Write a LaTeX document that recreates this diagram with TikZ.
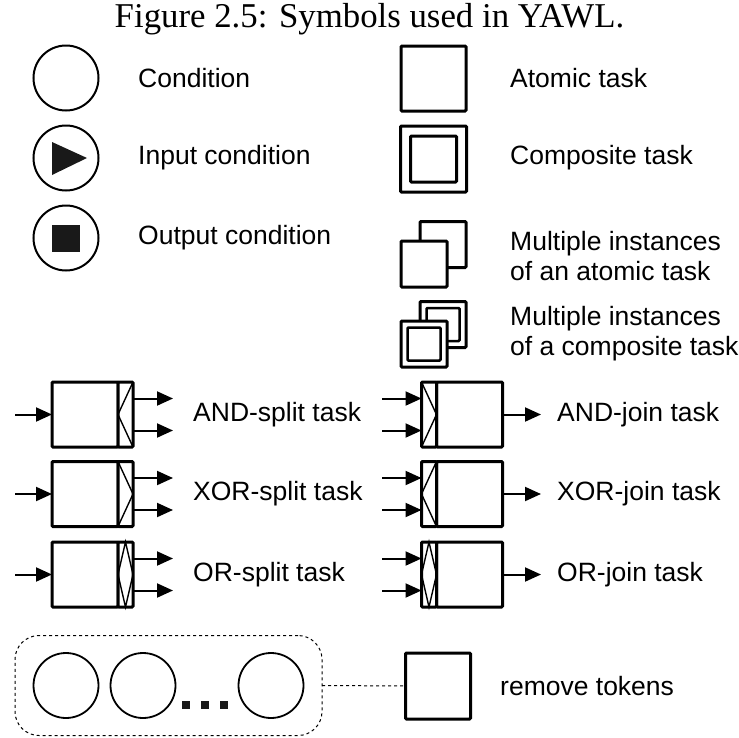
\documentclass[tikz,border=0pt]{standalone}
\usepackage{fontspec}
\setmainfont{Liberation Serif}
\setsansfont{Liberation Sans}
\usetikzlibrary{arrows.meta}

\begin{document}
\begin{tikzpicture}[x=1pt,y=-1pt,
  lbl/.style={font=\fontsize{26.5}{30}\selectfont\sffamily, anchor=west, inner sep=0, align=left},
  cond/.style={draw, circle, line width=2, minimum size=65, inner sep=0, outer sep=0},
  box/.style={draw, line width=3, rounded corners=1, fill=white, inner sep=0, outer sep=0},
  mainbox/.style={box, minimum width=66, minimum height=65},
  decobox/.style={box, minimum width=15, minimum height=65},
  flow/.style={line width=2, -{Triangle[length=16,width=14]}},
  deco/.style={line width=1.4},
  token/.style={draw, circle, line width=1.8, minimum size=65, inner sep=0, outer sep=0}]
\useasboundingbox (0,0) rectangle (739,737);

% caption
\node[font=\fontsize{34.8}{40}\selectfont, anchor=base, inner sep=0] (cap) at (369.5,27) {Figure 2.5: Symbols used in YAWL.};

% conditions
\node[cond] (c) at (66,78) {};
\node[cond] (ci) at (66,158) {};
\node[cond] (co) at (66,238) {};
\fill[black!90] ([shift={(-14,-16)}]ci.center) -- ([shift={(21,0)}]ci.center) -- ([shift={(-14,17)}]ci.center) -- cycle;
\fill[black!90] ([shift={(-14,-13.5)}]co.center) rectangle ([shift={(14,13.5)}]co.center);
\node[lbl] (lc) at (138,78) {Condition};
\node[lbl] (lci) at (138,158) {Input condition};
\node[lbl] (lco) at (138,238) {Output condition};

% tasks
\node[box, minimum size=65] (at) at (433.5,78.5) {};
\node[box, minimum size=66] (ct) at (433.5,159) {};
\node[box, minimum size=46] (cti) at (ct.center) {};
\node[box, minimum size=46] (mb) at (443,244.5) {};
\node[box, minimum size=46] (mf) at (424,264) {};
\node[box, minimum size=46] (mcb) at (443,324.5) {};
\node[box, minimum size=33, line width=2.5] (mcbi) at (mcb.center) {};
\node[box, minimum size=46] (mcf) at (424,344) {};
\node[box, minimum size=33, line width=2.5] (mcfi) at (mcf.center) {};
\node[lbl] (lat) at (510,78) {Atomic task};
\node[lbl] (lct) at (510,158) {Composite task};
\node[lbl] (lm) at (510,256) {Multiple instances\\of an atomic task};
\node[lbl] (lmc) at (510,334) {Multiple instances\\of a composite task};

% split tasks
\foreach \n/\y/\t in {as/414.5/AND, xs/494/XOR, os/574.5/OR}{
  \node[mainbox] (\n) at (85,\y) {};
  \node[decobox, anchor=west] (\n d) at (\n.east) {};
  \coordinate (\n in) at (15,\y);
  \coordinate (\n o1) at (173,\y-16);
  \coordinate (\n o2) at (173,\y+16);
  \draw[flow] (\n in) -- (\n.west);
  \draw[flow] (\n d.east |- \n o1) -- (\n o1);
  \draw[flow] (\n d.east |- \n o2) -- (\n o2);
  \node[lbl] (\n l) at (193,\y) {\t-split task};
}
\draw[deco] (asd.north east) -- (asd.west) -- (asd.south east);
\draw[deco] (xsd.north west) -- (xsd.east) -- (xsd.south west);
\draw[deco] (osd.north) -- (osd.west) -- (osd.south) -- (osd.east) -- cycle;

% join tasks
\foreach \n/\y/\t in {aj/414.5/AND, xj/494/XOR, oj/574.5/OR}{
  \node[mainbox] (\n) at (469.5,\y) {};
  \node[decobox, anchor=east] (\n d) at (\n.west) {};
  \coordinate (\n i1) at (382,\y-16);
  \coordinate (\n i2) at (382,\y+16);
  \coordinate (\n out) at (541,\y);
  \draw[flow] (\n i1) -- (\n d.west |- \n i1);
  \draw[flow] (\n i2) -- (\n d.west |- \n i2);
  \draw[flow] (\n.east) -- (\n out);
  \node[lbl] (\n l) at (557,\y) {\t-join task};
}
\draw[deco] (ajd.north west) -- (ajd.east) -- (ajd.south west);
\draw[deco] (xjd.north east) -- (xjd.west) -- (xjd.south east);
\draw[deco] (ojd.north) -- (ojd.west) -- (ojd.south) -- (ojd.east) -- cycle;

% remove tokens
\node[draw, dashed, line width=1, rounded corners=24, minimum width=307, minimum height=100, inner sep=0, outer sep=0] (reg) at (168.5,685.5) {};
\node[token] (t1) at (66,685.5) {};
\node[token] (t2) at (143,685.5) {};
\node[token] (t3) at (271,685.5) {};
\foreach \x in {186,205,224}
  \fill[black!90] (\x-4,700.5) rectangle (\x+4,708.5);
\node[box, minimum width=65, minimum height=66] (rt) at (438,686) {};
\draw[dashed, line width=1] (reg.east) -- (rt.west);
\node[lbl] (lrt) at (500,686) {remove tokens};
\end{tikzpicture}
\end{document}
